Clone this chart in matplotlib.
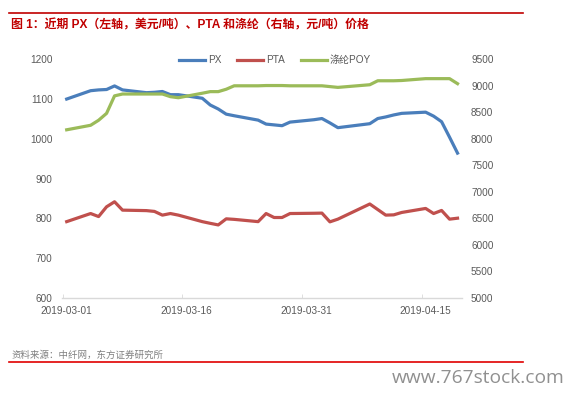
import matplotlib
matplotlib.use("Agg")
import matplotlib.pyplot as plt
import numpy as np
import pandas as pd
from matplotlib.lines import Line2D

plt.rcParams['font.family'] = ['Liberation Sans', 'Noto Sans CJK SC']

# trading days
dates = ["2019-03-01", "2019-03-04", "2019-03-05", "2019-03-06", "2019-03-07", "2019-03-08",
         "2019-03-11", "2019-03-12", "2019-03-13", "2019-03-14", "2019-03-15",
         "2019-03-18", "2019-03-19", "2019-03-20", "2019-03-21", "2019-03-22",
         "2019-03-25", "2019-03-26", "2019-03-27", "2019-03-28", "2019-03-29",
         "2019-04-01", "2019-04-02", "2019-04-03", "2019-04-04",
         "2019-04-08", "2019-04-09", "2019-04-10", "2019-04-11", "2019-04-12",
         "2019-04-15", "2019-04-16", "2019-04-17", "2019-04-18", "2019-04-19"]

# PX, USD/t (left axis)
px = [1100, 1121, 1123, 1124, 1133, 1123,
      1116, 1117, 1119, 1111, 1111,
      1102, 1085, 1075, 1062, 1058,
      1047, 1037, 1035, 1033, 1042,
      1048, 1051, 1040, 1028,
      1038, 1051, 1055, 1060, 1064,
      1067, 1057, 1043, 1004, 964]

# PTA, CNY/t (right axis)
pta = [6437, 6590, 6533, 6717, 6812, 6654,
       6645, 6630, 6560, 6590, 6560,
       6437, 6405, 6375, 6490, 6480,
       6437, 6590, 6515, 6515, 6590,
       6595, 6598, 6433, 6484,
       6770, 6665, 6560, 6565, 6610,
       6686, 6590, 6648, 6484, 6502]

# 涤纶POY, CNY/t (right axis)
poy = [8170, 8255, 8350, 8480, 8810, 8845,
       8845, 8845, 8845, 8795, 8775,
       8860, 8890, 8890, 8935, 9000,
       9000, 9005, 9005, 9005, 9000,
       9000, 9000, 8985, 8970,
       9020, 9095, 9095, 9095, 9100,
       9135, 9135, 9135, 9135, 9040]

tick_labels = ["2019-03-01", "2019-03-16", "2019-03-31", "2019-04-15"]

day0 = pd.Timestamp(dates[0])
x = np.array([(pd.Timestamp(d) - day0).days for d in dates])
tick_pos = [(pd.Timestamp(d) - day0).days for d in tick_labels]

c_px = '#4A7EBB'
c_pta = '#C0504D'
c_poy = '#9BBB59'
txt = '#595959'

fig = plt.figure(figsize=(5.74, 3.94), dpi=100)
ax = fig.add_axes([62.3 / 574, 1 - 297.8 / 394, (462 - 62.3) / 574, (297.8 - 59.3) / 394])
ax2 = ax.twinx()

l1, = ax.plot(x, px, color=c_px, lw=2.3, solid_joinstyle='round', label='PX')
l2, = ax2.plot(x, pta, color=c_pta, lw=2.3, solid_joinstyle='round', label='PTA')
l3, = ax2.plot(x, poy, color=c_poy, lw=2.3, solid_joinstyle='round', label='涤纶POY')

ax.set_xlim(-0.55, 49.56)
ax.set_ylim(600, 1200)
ax.set_yticks(np.arange(600, 1201, 100))
ax2.set_ylim(5000, 9500)
ax2.set_yticks(np.arange(5000, 9501, 500))

ax.set_xticks(tick_pos)
ax.set_xticklabels(tick_labels)
ax.set_xticks([p - 0.5 for p in tick_pos], minor=True)
ax.tick_params(axis='x', which='major', length=0, pad=6, labelsize=7.2, labelcolor=txt)
ax.tick_params(axis='x', which='minor', direction='in', length=3, color='#D9D9D9')
ax.tick_params(axis='y', length=0, pad=7, labelsize=7.2, labelcolor=txt)
ax2.tick_params(axis='y', length=0, pad=6.5, labelsize=7.2, labelcolor=txt)

for a in (ax, ax2):
    for s in ('top', 'left', 'right'):
        a.spines[s].set_visible(False)
ax2.spines['bottom'].set_visible(False)
ax.spines['bottom'].set_color('#D9D9D9')
ax.spines['bottom'].set_linewidth(1)

fig.legend(handles=[l1, l2, l3], loc='center', bbox_to_anchor=(275 / 574, 1 - 60 / 394),
           ncol=3, frameon=False, fontsize=7.2, handlelength=2.6, handletextpad=0.3,
           columnspacing=1.6, labelcolor=txt)

# header / footer
fig.add_artist(Line2D([9 / 574, 523 / 574], [1 - 13 / 394, 1 - 13 / 394], color='#C00000', lw=1.2))
fig.text(11 / 574, 1 - 25 / 394, "图 1：近期 PX（左轴，美元/吨）、PTA 和涤纶（右轴，元/吨）价格",
         color='#C00000', fontsize=8.6, fontweight='bold', va='center', ha='left')
fig.text(11 / 574, 1 - 355 / 394, "资料来源：中纤网，东方证券研究所",
         color='#7F7F7F', fontsize=6.8, va='center', ha='left')
fig.add_artist(Line2D([9 / 574, 523 / 574], [1 - 362.3 / 394, 1 - 362.3 / 394], color='#E00000', lw=1.2))
fig.text(565 / 574, 1 - 378 / 394, "www.767stock.com", color='#909090', fontsize=13.8,
         family='Open Sans', va='center', ha='right')

fig.savefig('out.png', dpi=100)
